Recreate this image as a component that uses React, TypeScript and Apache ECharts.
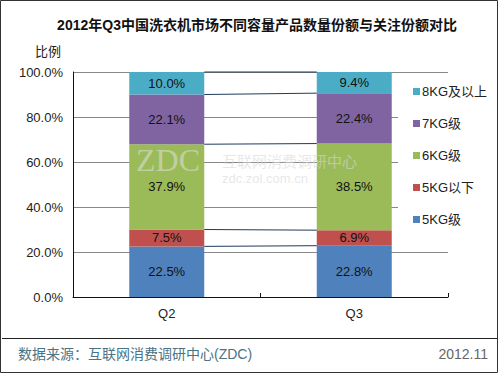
import React, { useEffect, useRef } from "react";
import * as echarts from "echarts";

const categories = ["Q2", "Q3"];
const seriesNames = ["5KG级", "5KG以下", "6KG级", "7KG级", "8KG及以上"];
const values5kg = [22.5, 22.8];
const valuesBelow5 = [7.5, 6.9];
const values6kg = [37.9, 38.5];
const values7kg = [22.1, 22.4];
const values8kg = [10.0, 9.4];
const yTicks = [0, 20, 40, 60, 80, 100];
const colors = ["#4F81BD", "#C0504D", "#9BBB59", "#8064A2", "#4BACC6"];

const FONT = "'Liberation Sans', 'Noto Sans CJK SC', sans-serif";

export default function App() {
  const ref = useRef<HTMLDivElement>(null);
  useEffect(() => {
    if (!ref.current) return;
    const chart = echarts.init(ref.current, undefined, { renderer: "svg" });
    const allSeries = [values5kg, valuesBelow5, values6kg, values7kg, values8kg];
    const connectors: number[][] = [];
    const cum = [0, 0];
    allSeries.forEach((arr) => {
      cum[0] += arr[0];
      cum[1] += arr[1];
      connectors.push([cum[0], cum[1]]);
    });
    const barSeries = allSeries.map((arr, i) => ({
      name: seriesNames[i],
      type: "bar",
      stack: "total",
      barWidth: "40%",
      data: arr,
      itemStyle: { color: colors[i] },
      label: {
        show: true,
        position: "inside",
        formatter: (p: any) => p.value.toFixed(1) + "%",
        color: "#111",
        fontSize: 13,
        fontFamily: FONT,
      },
    }));
    chart.setOption({
      animation: false,
      backgroundColor: "#fff",
      title: {
        text: "2012年Q3中国洗衣机市场不同容量产品数量份额与关注份额对比",
        left: 252,
        textAlign: "center",
        top: 13,
        textStyle: { fontSize: 14, fontWeight: "bold", color: "#111", fontFamily: FONT },
      },
      grid: { left: 73, right: 52, top: 72, bottom: 78 },
      legend: {
        orient: "vertical",
        left: 398,
        top: 77,
        backgroundColor: "#fff",
        padding: [8, 10, 8, 15],
        itemWidth: 7,
        itemHeight: 7,
        itemGap: 19,
        icon: "rect",
        data: [...seriesNames].reverse(),
        textStyle: { fontSize: 13, color: "#222", fontFamily: FONT, padding: [0, 0, 0, -3] },
      },
      xAxis: {
        type: "category",
        data: categories,
        axisLine: { lineStyle: { color: "#111" } },
        axisTick: { show: true, inside: true, length: 4, lineStyle: { color: "#111" } },
        axisLabel: { fontSize: 13, color: "#222", margin: 10, fontFamily: FONT },
      },
      yAxis: {
        type: "value",
        min: 0,
        max: 100,
        interval: 20,
        name: "比例",
        nameLocation: "end",
        nameGap: 14,
        nameTextStyle: { fontSize: 13, color: "#222", align: "right", padding: [0, 12, 0, 0], fontFamily: FONT },
        axisLine: { show: true, lineStyle: { color: "#111" } },
        axisTick: { show: false },
        splitLine: { lineStyle: { color: "#888" } },
        axisLabel: {
          fontSize: 13,
          color: "#222",
          margin: 10,
          fontFamily: FONT,
          formatter: (v: number) => (yTicks.includes(v) ? v.toFixed(1) + "%" : ""),
        },
      },
      series: [
        ...barSeries,
        {
          type: "custom",
          name: "connectors",
          data: connectors,
          z: 5,
          renderItem: (params: any, api: any) => {
            const v1 = api.value(0);
            const v2 = api.value(1);
            const p1 = api.coord([0, v1]);
            const p2 = api.coord([1, v2]);
            const half = api.size([1, 0])[0] * 0.2;
            return {
              type: "line",
              shape: { x1: p1[0] + half, y1: p1[1], x2: p2[0] - half, y2: p2[1] },
              style: { stroke: "#1F3B5C", lineWidth: 1 },
            };
          },
          encode: { x: -1, y: [0, 1] },
          silent: true,
        },
      ],
      graphic: [
        {
          type: "text",
          left: 136,
          top: 144,
          z: 100,
          style: { text: "ZDC", fontSize: 32, fontFamily: "'Liberation Serif', serif", fill: "rgba(225,225,225,0.55)" },
        },
        {
          type: "text",
          left: 222,
          top: 154,
          z: 100,
          style: { text: "互联网消费调研中心", fontSize: 15, fontFamily: FONT, fill: "rgba(215,215,215,0.6)" },
        },
        {
          type: "text",
          left: 222,
          top: 172,
          z: 100,
          style: { text: "zdc.zol.com.cn", fontSize: 13, fontFamily: FONT, fill: "rgba(215,215,215,0.6)" },
        },
        {
          type: "line",
          z: 100,
          shape: { x1: 2, y1: 338.5, x2: 497, y2: 338.5 },
          style: { stroke: "#222", lineWidth: 1 },
        },
        {
          type: "text",
          left: 18,
          top: 347,
          z: 100,
          style: { text: "数据来源：互联网消费调研中心(ZDC)", fontSize: 14, fontFamily: FONT, fill: "#4A7384" },
        },
        {
          type: "text",
          right: 12,
          top: 347,
          z: 100,
          style: { text: "2012.11", fontSize: 14, fontFamily: FONT, fill: "#666" },
        },
        {
          type: "rect",
          z: 100,
          shape: { x: 0.5, y: 0.5, width: 497, height: 372 },
          style: { fill: "none", stroke: "#333", lineWidth: 1 },
        },
      ],
    });
    return () => chart.dispose();
  }, []);
  return (
    <div
      ref={ref}
      style={{ position: "absolute", left: 0, top: 0, width: 500, height: 375 }}
    />
  );
}
